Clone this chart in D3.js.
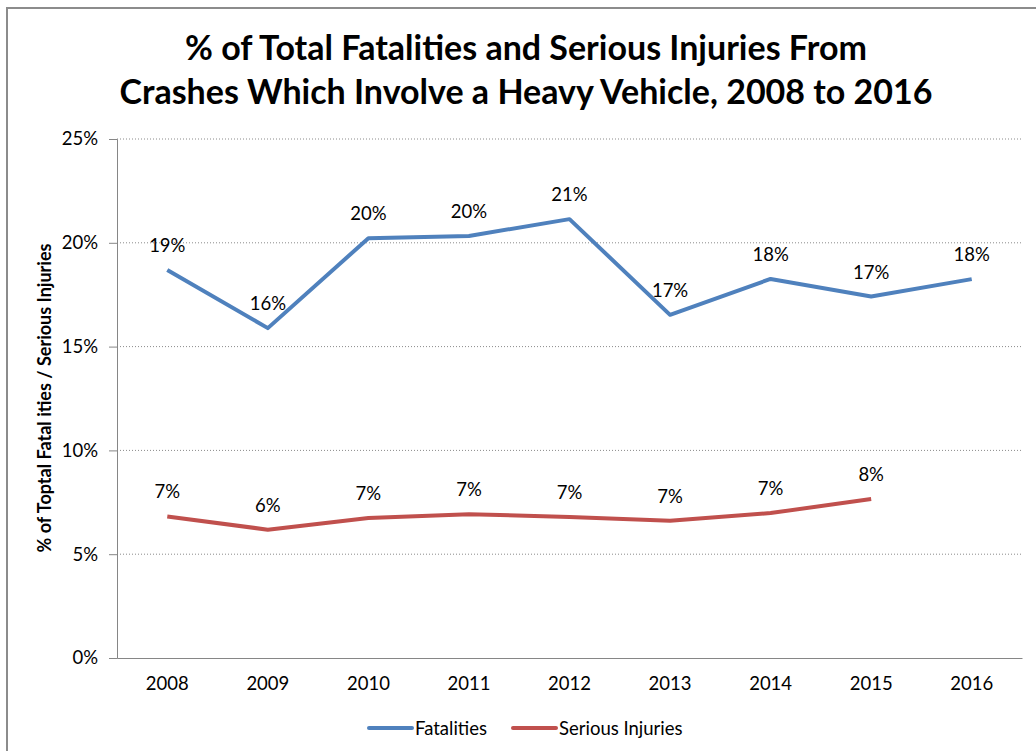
<!DOCTYPE html>
<html><head><meta charset="utf-8">
<script src="https://cdn.jsdelivr.net/npm/d3@7"></script>
<style>body{margin:0;background:#fff}svg{display:block}text{font-family:Lato,"Open Sans",sans-serif}</style>
</head><body><svg id="c" width="1036" height="751"></svg>
<script>
const years = ["2008","2009","2010","2011","2012","2013","2014","2015","2016"];
const fatalities = [18.69,15.89,20.22,20.33,21.14,16.53,18.26,17.41,18.25];
const serious = [6.82,6.18,6.74,6.93,6.79,6.61,6.98,7.66,null];
const yTicks = [0,5,10,15,20,25];
const titleLines = ["% of Total Fatalities and Serious Injuries From","Crashes Which Involve a Heavy Vehicle, 2008 to 2016"];
const yTitle = "% of Toptal Fatal ities / Serious Injuries";
const seriesNames = ["Fatalities","Serious Injuries"];
const colors = ["#4F81BD","#C0504D"];

const svg = d3.select("#c");
svg.append("rect").attr("x",7).attr("y",8).attr("width",1040).attr("height",760)
  .attr("fill","none").attr("stroke","#8c8c8c").attr("stroke-width",2);

const L=117, R=1022, T=139, B=658;
const x = d3.scaleBand().domain(years).range([L,R]);
const y = d3.scaleLinear().domain([0,25]).range([B,T]);

// title
svg.append("text").attr("x",526).attr("y",0).attr("text-anchor","middle")
  .style("font-weight","bold").style("font-size","34px").attr("fill","#000")
  .selectAll("tspan").data(titleLines).join("tspan")
  .attr("x",526).attr("y",(d,i)=>60+i*44).text(d=>d);

// gridlines
svg.append("g").selectAll("line").data(yTicks.filter(d=>d>0)).join("line")
  .attr("x1",L).attr("x2",R).attr("y1",d=>y(d)).attr("y2",d=>y(d))
  .attr("stroke","#8a8a8a").attr("stroke-width",1).attr("stroke-dasharray","1,2");

const fs = "18.5px";
// y axis
const ya = svg.append("g").attr("transform",`translate(${L},0)`)
  .call(d3.axisLeft(y).tickValues(yTicks).tickSize(8).tickPadding(11).tickFormat(d=>d+"%"));
ya.select(".domain").attr("stroke","#868686");
ya.selectAll(".tick line").attr("stroke","#868686");
ya.selectAll(".tick text").style("font-size",fs).attr("fill","#000").style("font-family","Lato,sans-serif");

// x axis
const xa = svg.append("g").attr("transform",`translate(0,${B})`)
  .call(d3.axisBottom(x).tickSize(0).tickPadding(19));
xa.select(".domain").attr("stroke","#868686");
xa.selectAll(".tick text").style("font-size",fs).attr("fill","#000").style("font-family","Lato,sans-serif");

// y title
svg.append("text").attr("transform","translate(51,398) rotate(-90)").attr("text-anchor","middle")
  .style("font-weight","bold").style("font-size","18px").attr("fill","#000").text(yTitle);

const line = d3.line().defined(d=>d.v!=null).x(d=>x(d.k)+x.bandwidth()/2).y(d=>y(d.v));
[fatalities,serious].forEach((s,i)=>{
  const data = years.map((k,j)=>({k,v:s[j]}));
  svg.append("path").datum(data).attr("d",line).attr("fill","none")
    .attr("stroke",colors[i]).attr("stroke-width",4).attr("stroke-linejoin","round");
  svg.append("g").selectAll("text").data(data.filter(d=>d.v!=null)).join("text")
    .attr("x",d=>x(d.k)+x.bandwidth()/2).attr("y",d=>y(d.v)-18)
    .attr("text-anchor","middle").style("font-size",fs).attr("fill","#000")
    .text(d=>Math.round(d.v)+"%");
});

// legend
const leg = [{x:369,n:0},{x:513,n:1}];
leg.forEach(l=>{
  svg.append("line").attr("x1",l.x).attr("x2",l.x+43).attr("y1",728).attr("y2",728)
    .attr("stroke",colors[l.n]).attr("stroke-width",4).attr("stroke-linecap","round");
  svg.append("text").attr("x",l.x+46).attr("y",735).style("font-size",fs).attr("fill","#000").text(seriesNames[l.n]);
});
</script></body></html>
